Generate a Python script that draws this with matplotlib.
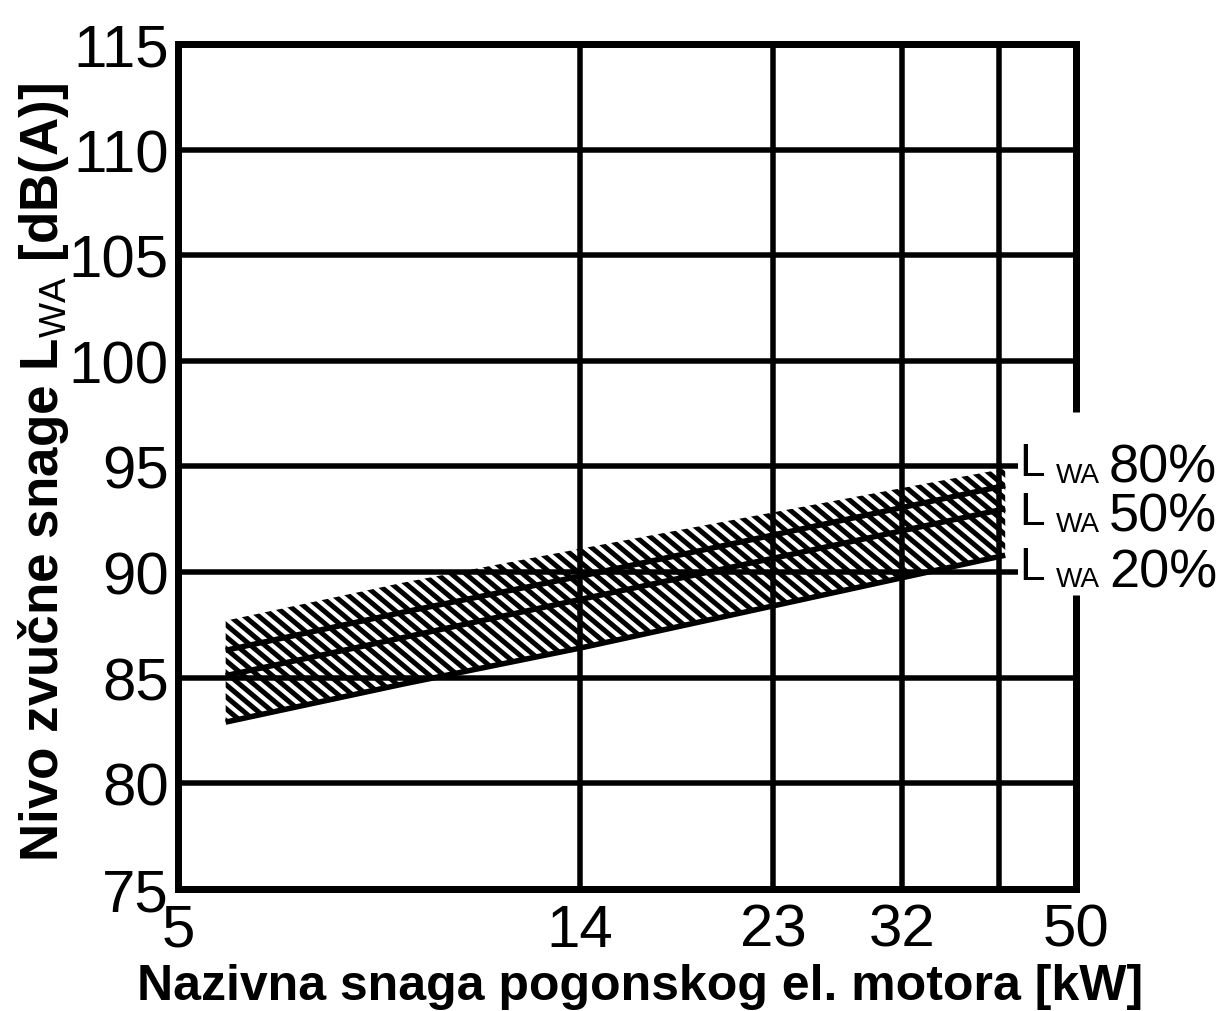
import numpy as np
import matplotlib
matplotlib.use('Agg')
import matplotlib.pyplot as plt
import matplotlib.transforms as mtransforms
from matplotlib.collections import LineCollection
from matplotlib.ticker import NullLocator

DPI = 100
W, H = 1219, 1012

# values
power_kw = [5.65, 8.9, 14, 41.7]
band_top = [87.7, 89.5, 91.1, 94.9]
lwa_80 = [86.3, 88.1, 89.8, 94.1]
lwa_50 = [85.1, 86.9, 88.7, 93.0]
lwa_20 = [82.9, 84.7, 86.4, 90.8]

x_ticks = [5, 14, 23, 32, 50]
x_grid = [14, 23, 32, 41]
y_ticks = [75, 80, 85, 90, 95, 100, 105, 110, 115]
short_grid = [90, 95]          # these two stop short, as leaders to the labels
curve_names = ['80%', '50%', '20%']
curve_label_y = [94.27, 91.95, 89.34]

plt.rcParams['font.family'] = ['Liberation Sans', 'DejaVu Sans']
plt.rcParams['mathtext.fontset'] = 'custom'
plt.rcParams['mathtext.rm'] = 'Liberation Sans'


def px(v):
    return v * 72.0 / DPI


fig = plt.figure(figsize=(W / DPI, H / DPI), dpi=DPI)
ax = fig.add_axes([178 / W, 1 - 890 / H, (1076 - 178) / W, (890 - 45) / H])
ax.set_xscale('log')
ax.set_xlim(5, 50)
ax.set_ylim(75, 115)

# band between the 20% curve and its upper edge, hatched with "\" strokes
# (~14 px pitch, ~40 deg slant); laid out in inches so it holds at any dpi
band = ax.fill_between(power_kw, lwa_20, band_top, facecolor='none', linewidth=0)
w_in, h_in = W / DPI, H / DPI
pitch = 14.3 / DPI
run = h_in / np.tan(np.radians(40))
offsets = np.arange(0, w_in + run, pitch)
strokes = [[(b - run, h_in), (b, 0)] for b in offsets]
hatch = LineCollection(strokes, colors='black', linewidths=px(5),
                       transform=fig.dpi_scale_trans, zorder=2)
ax.add_collection(hatch, autolim=False)
hatch.set_clip_path(band.get_paths()[0], ax.transData)

for series in (lwa_80, lwa_50, lwa_20):
    ax.plot(power_kw, series, color='black', lw=px(5.5), solid_capstyle='butt', zorder=3)

# grid
for y in y_ticks[1:-1]:
    xmax = 43.1 if y in short_grid else 50
    ax.hlines(y, 5, xmax, color='black', lw=px(5.5), zorder=1)
ax.vlines(x_grid, 75, 115, color='black', lw=px(5.5), zorder=1)

for side in ('left', 'top', 'bottom'):
    ax.spines[side].set_linewidth(px(7))
ax.spines['right'].set_visible(False)
# right frame line, broken where the curve labels sit
ax.vlines([50, 50], [75, 97.6], [88.9, 115], color='black', lw=px(7), clip_on=False)

ax.set_xticks(x_ticks)
ax.set_xticklabels([str(v) for v in x_ticks])
ax.xaxis.set_minor_locator(NullLocator())
ax.set_yticks(y_ticks)
ax.set_yticklabels([str(v) for v in y_ticks])
ax.tick_params(length=0, labelsize=px(60))
ax.tick_params(axis='x', pad=px(14))
ax.tick_params(axis='y', pad=px(9))

# curve labels at the right
trans = mtransforms.blended_transform_factory(fig.transFigure, ax.transData)
for name, y in zip(curve_names, curve_label_y):
    ax.text(1019 / W, y + 0.35, 'L', transform=trans, fontsize=px(46), va='baseline', ha='left')
    ax.text(1056 / W, y, 'WA', transform=trans, fontsize=px(28), va='baseline', ha='left')
    ax.text(1109 / W, y, name, transform=trans, fontsize=px(54), va='baseline', ha='left')

fig.text(640 / W, 1 - 1000 / H, 'Nazivna snaga pogonskog el. motora [kW]',
         fontsize=px(50), fontweight='bold', ha='center', va='baseline')
fig.text(44 / W, 1 - 472 / H, r'Nivo zvučne snage L$_{\mathrm{WA}}$ [dB(A)]',
         fontsize=px(53), fontweight='bold', rotation=90, ha='center', va='center')

fig.savefig('out.png', dpi=DPI)
